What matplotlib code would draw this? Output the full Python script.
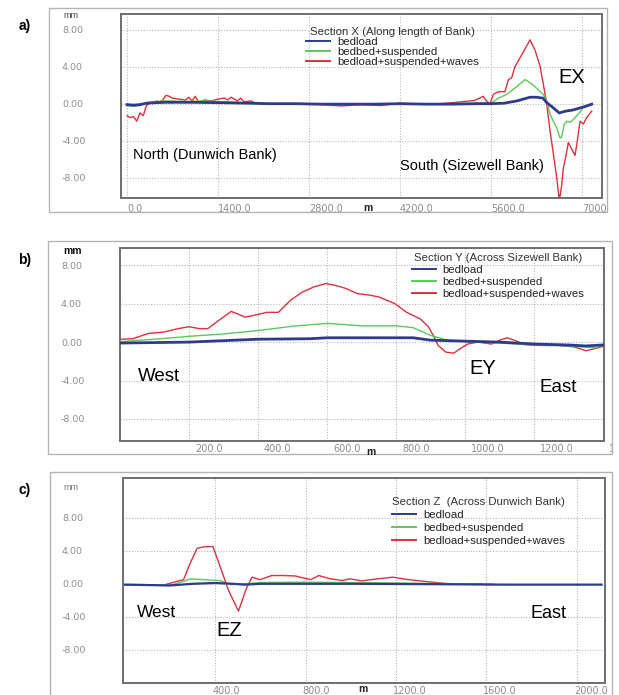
import matplotlib
matplotlib.use("Agg")

import matplotlib.pyplot as plt
from matplotlib.patches import Rectangle
from matplotlib.transforms import Bbox, TransformedBbox, ScaledTranslation

plt.rcParams["font.family"] = ["Liberation Sans", "DejaVu Sans"]

# ==================================================
# DADOS - SECTION X
# ==================================================

xa_red = [0, 50, 100, 150, 200, 250, 300, 350, 400, 450, 500, 550, 600, 650,
          700, 800, 900, 950, 1000, 1050, 1100, 1200, 1300, 1400, 1500, 1550,
          1600, 1700, 1750, 1800, 1900, 2000, 2200, 2600, 3000, 3300, 3600,
          3900, 4200, 4500, 4800, 5000, 5200, 5350, 5480, 5530, 5585, 5636,
          5713, 5815, 5867, 5918, 5969, 6098, 6200, 6277, 6354, 6405, 6457,
          6508, 6559, 6585, 6611, 6652, 6688, 6713, 6754, 6790, 6841, 6893,
          6918, 6970, 7021, 7072, 7150]
ya_red = [-1.3, -1.5, -1.4, -1.9, -1.0, -1.3, -0.2, 0.1, 0.0, 0.3, 0.2, 0.4,
          0.9, 0.8, 0.6, 0.5, 0.4, 0.7, 0.3, 0.8, 0.2, 0.4, 0.3, 0.5, 0.6, 0.4,
          0.7, 0.3, 0.6, 0.2, 0.3, 0.0, 0.0, -0.05, -0.1, -0.25, -0.1, -0.2,
          0.05, -0.05, 0.0, 0.1, 0.25, 0.35, 0.8, 0.3, 0.0, 1.0, 1.3, 1.3, 2.6,
          2.8, 4.0, 5.6, 6.9, 5.8, 4.1, 2.1, 0.0, -2.9, -5.4, -6.7, -8.0,
          -10.5, -8.8, -7.0, -5.6, -4.2, -4.9, -5.6, -4.5, -1.9, -2.2, -1.5,
          -0.8]

xa_green = [0, 100, 200, 300, 400, 600, 900, 1200, 1500, 1800, 2100, 2600,
            3000, 3400, 3800, 4200, 4600, 5000, 5400, 5600, 5636, 5713, 5840,
            5969, 6072, 6123, 6175, 6251, 6328, 6405, 6457, 6508, 6559, 6611,
            6662, 6688, 6724, 6765, 6826, 6867, 6918, 6970, 7021, 7072, 7100]
ya_green = [-0.2, -0.3, -0.2, 0.1, 0.2, 0.3, 0.25, 0.3, 0.2, 0.1, 0.0, -0.05,
            -0.05, -0.1, -0.05, 0.0, -0.05, 0.0, 0.05, 0.1, 0.2, 0.6, 1.0, 1.7,
            2.3, 2.6, 2.4, 2.0, 1.5, 1.0, 0.3, -1.1, -1.9, -2.6, -3.7, -3.6,
            -2.3, -1.9, -2.0, -1.7, -1.3, -0.9, -0.4, -0.2, -0.1]

xa_blue = [0, 100, 200, 300, 400, 600, 1000, 1500, 1900, 2200, 2600, 3000,
           3400, 3800, 4200, 4600, 5000, 5400, 5600, 5800, 6000, 6100, 6200,
           6300, 6400, 6460, 6550, 6650, 6700, 6750, 6850, 6950, 7050, 7150]
ya_blue = [-0.1, -0.15, -0.1, 0.05, 0.1, 0.15, 0.15, 0.1, 0.05, 0.0, 0.0,
           -0.05, -0.05, -0.05, 0.0, -0.05, -0.05, 0.0, 0.0, 0.05, 0.3, 0.5,
           0.7, 0.7, 0.6, 0.1, -0.4, -1.0, -0.9, -0.8, -0.7, -0.5, -0.3, -0.05]

# ==================================================
# DADOS - SECTION Y
# ==================================================

xb_red = [0, 37, 82, 128, 168, 200, 231, 254, 288, 322, 340, 362, 391, 425,
          459, 494, 528, 562, 597, 625, 654, 688, 722, 751, 797, 831, 871,
          894, 911, 922, 945, 968, 985, 1008, 1037, 1077, 1099, 1122, 1145,
          1173, 1213, 1271, 1317, 1351, 1374, 1400]
yb_red = [0.3, 0.35, 0.9, 1.05, 1.4, 1.6, 1.4, 1.4, 2.3, 3.2, 2.95, 2.6, 2.8,
          3.1, 3.1, 4.35, 5.2, 5.75, 6.1, 5.9, 5.6, 5.05, 4.9, 4.7, 4.0, 3.1,
          2.4, 1.6, 0.5, -0.35, -1.05, -1.15, -0.7, -0.2, 0.0, -0.2, 0.17,
          0.45, 0.17, -0.25, -0.35, -0.35, -0.5, -0.9, -0.7, -0.45]

xb_green = [0, 100, 200, 300, 400, 500, 600, 700, 800, 850, 900, 950, 1000,
            1100, 1200, 1300, 1380, 1400]
yb_green = [0.05, 0.3, 0.6, 0.85, 1.2, 1.65, 1.95, 1.7, 1.7, 1.5, 0.7, 0.2,
            0.05, -0.1, -0.3, -0.4, -0.6, -0.3]

xb_blue = [0, 200, 300, 400, 550, 600, 850, 900, 1000, 1100, 1200, 1300,
           1350, 1400]
yb_blue = [-0.1, 0.0, 0.15, 0.3, 0.35, 0.45, 0.45, 0.2, 0.1, 0.0, -0.2, -0.3,
           -0.4, -0.3]

# ==================================================
# DADOS - SECTION Z
# ==================================================

xc_red = [0, 78, 165, 217, 260, 286, 320, 355, 390, 425, 459, 503, 537, 563,
          598, 650, 702, 754, 823, 858, 910, 962, 997, 1049, 1118, 1187, 1256,
          1326, 1395, 1464, 1534, 1629]
yc_red = [-0.1, -0.1, -0.2, 0.2, 0.5, 2.3, 4.3, 4.5, 4.5, 1.85, -0.8, -3.3,
          -0.6, 0.8, 0.5, 1.0, 1.0, 0.95, 0.5, 1.0, 0.6, 0.4, 0.6, 0.35, 0.6,
          0.8, 0.5, 0.3, 0.1, -0.05, -0.05, -0.1]

xc_green = [0, 200, 260, 290, 350, 420, 470, 520, 600, 800, 1200, 1500, 1630]
yc_green = [-0.1, -0.2, 0.3, 0.6, 0.5, 0.4, -0.1, 0.0, 0.15, 0.2, 0.1, 0.0,
            -0.05]

xc_blue = [0, 200, 300, 400, 480, 530, 600, 1000, 1400, 1700, 2000, 2110]
yc_blue = [-0.1, -0.2, 0.0, 0.1, 0.0, -0.1, 0.0, 0.0, -0.05, -0.1, -0.1,
           -0.1]

yticks = [8, 4, 0, -4, -8]
ytick_labels = ["8.00", "4.00", "0.00", "-4.00", "-8.00"]

xa_ticks = [0, 1400, 2800, 4200, 5600, 7000]
xa_labels = ["0.0", "1400.0", "2800.0", "4200.0", "5600.0", "7000.0"]
xb_ticks = [200, 400, 600, 800, 1000, 1200, 1400]
xb_labels = ["200.0", "400.0", "600.0", "800.0", "1000.0", "1200.0", "1400.0"]
xc_ticks = [400, 800, 1200, 1600, 2000]
xc_labels = ["400.0", "800.0", "1200.0", "1600.0", "2000.0"]

series_labels = ["bedload", "bedbed+suspended", "bedload+suspended+waves"]

COR_BLUE = "#2e3a8e"
COR_GREEN = "#5cc85c"
COR_RED = "#e0303c"
COR_TICK = "#8c8c8c"

W, H = 619, 695

fig = plt.figure(figsize=(W / 100, H / 100), dpi=100)


def px_box(x0, y0, x1, y1):
    # caixa em pixels (origem no topo) -> fracao da figura
    return [x0 / W, 1 - y1 / H, (x1 - x0) / W, (y1 - y0) / H]


def painel(
    letra,
    outer,
    inner,
    xlim,
    ylim,
    xticks,
    xlabels,
    series,
    titulo,
    leg_anchor,
    leg_spacing,
    ytick_pad,
    xtick_pad,
    xlabel_shift,
    mm_style,
    m_pos
):

    # moldura externa clara
    ox0, oy0, ox1, oy1 = outer
    moldura = Rectangle(
        (ox0 / W, 1 - oy1 / H),
        (ox1 - ox0) / W,
        (oy1 - oy0) / H,
        transform=fig.transFigure,
        fill=False,
        edgecolor="#b4b4b4",
        linewidth=1.0
    )
    fig.patches.append(moldura)

    clip = TransformedBbox(
        Bbox.from_extents(ox0 / W, 1 - oy1 / H, ox1 / W, 1 - oy0 / H),
        fig.transFigure
    )

    ax = fig.add_axes(px_box(*inner))

    xb, yb, xg, yg, xr, yr, lw_blue = series

    ax.plot(xb, yb, color=COR_BLUE, linewidth=lw_blue, label=series_labels[0],
            zorder=4)
    ax.plot(xg, yg, color=COR_GREEN, linewidth=1.0, label=series_labels[1],
            zorder=3)
    ax.plot(xr, yr, color=COR_RED, linewidth=1.0, label=series_labels[2],
            zorder=2)

    ax.set_xlim(*xlim)
    ax.set_ylim(*ylim)

    ax.set_yticks(yticks)
    ax.set_yticklabels(ytick_labels, family="DejaVu Sans")
    ax.set_xticks(xticks)
    ax.set_xticklabels(xlabels, family="DejaVu Sans")

    ax.tick_params(axis="y", length=0, pad=ytick_pad, labelsize=6.8,
                   labelcolor=COR_TICK)
    ax.tick_params(axis="x", length=0, pad=xtick_pad, labelsize=7,
                   labelcolor=COR_TICK)

    for lab in ax.get_yticklabels():
        lab.set_horizontalalignment("left")

    desloc = ScaledTranslation(xlabel_shift / 100, 0, fig.dpi_scale_trans)
    for lab in ax.get_xticklabels():
        lab.set_horizontalalignment("left")
        lab.set_transform(lab.get_transform() + desloc)
        lab.set_clip_box(clip)
        lab.set_clip_on(True)

    ax.grid(True, linestyle=(0, (1, 1.5)), color="#b8b8b8", linewidth=0.8)
    ax.set_axisbelow(True)

    for sp in ax.spines.values():
        sp.set_color("#6e6e6e")
        sp.set_linewidth(1.4)

    leg = ax.legend(
        title=titulo,
        loc="upper left",
        bbox_to_anchor=leg_anchor,
        frameon=False,
        fontsize=8.2,
        title_fontproperties={"size": 8.2},
        handlelength=2.1,
        handletextpad=0.6,
        labelspacing=leg_spacing,
        borderpad=0,
        borderaxespad=0
    )
    leg.get_title().set_color("#333333")
    for t in leg.get_texts():
        t.set_color("#222222")
    for h in leg.legend_handles:
        h.set_linewidth(1.4)

    # letra do painel
    fig.text(25 / W, 1 - (inner[1] + 12) / H, letra, fontsize=10,
             fontweight="bold", ha="center", va="center")

    # unidade do eixo y
    mm_y, mm_cor, mm_peso, mm_tam = mm_style
    fig.text(63 / W, 1 - mm_y / H, "mm", fontsize=mm_tam, color=mm_cor,
             fontweight=mm_peso, ha="left", va="center")

    # unidade do eixo x
    fig.text(m_pos[0] / W, 1 - m_pos[1] / H, "m", fontsize=7.5,
             color="#222222", fontweight="bold", ha="center", va="center")

    return ax


# ==================================================
# PAINEL A
# ==================================================

ax_a = painel(
    "a)",
    (49, 8, 607, 212),
    (121, 14, 602, 198),
    (-92, 7308),
    (-10.2, 9.7),
    xa_ticks,
    xa_labels,
    (xa_blue, ya_blue, xa_green, ya_green, xa_red, ya_red, 2.0),
    "Section X (Along length of Bank)",
    (0.385, 0.93),
    0.0,
    42.5,
    4.5,
    0,
    (15, "#444444", "normal", 6.5),
    (368, 208)
)

ax_a.text(92, -5.5, "North (Dunwich Bank)", fontsize=10.5, va="center")
ax_a.text(4200, -6.7, "South (Sizewell Bank)", fontsize=10.5, va="center")
ax_a.text(6630, 2.8, "EX", fontsize=14.5, va="center")

# ==================================================
# PAINEL B
# ==================================================

ax_b = painel(
    "b)",
    (48, 241, 612, 454),
    (120, 248, 604, 441),
    (0, 1403),
    (-10.3, 9.8),
    xb_ticks,
    xb_labels,
    (xb_blue, yb_blue, xb_green, yb_green, xb_red, yb_red, 2.0),
    "Section Y (Across Sizewell Bank)",
    (0.603, 0.975),
    0.18,
    42.5,
    2.5,
    6,
    (251, "#111111", "bold", 7.5),
    (371, 452)
)

ax_b.text(52, -3.6, "West", fontsize=13.5, va="center")
ax_b.text(1014, -2.7, "EY", fontsize=14.5, va="center")
ax_b.text(1217, -4.7, "East", fontsize=13.5, va="center")

# ==================================================
# PAINEL C
# ==================================================

ax_c = painel(
    "c)",
    (50, 472, 612, 700),
    (123, 478, 605, 683),
    (-8, 2125),
    (-12.0, 12.8),
    xc_ticks,
    xc_labels,
    (xc_blue, yc_blue, xc_green, yc_green, xc_red, yc_red, 1.6),
    "Section Z  (Across Dunwich Bank)",
    (0.558, 0.905),
    0.25,
    44,
    2,
    -3,
    (488, "#777777", "normal", 6.5),
    (363, 689)
)

ax_c.text(55, -3.5, "West", fontsize=12.5, va="center")
ax_c.text(405, -5.6, "EZ", fontsize=14.5, va="center")
ax_c.text(1797, -3.6, "East", fontsize=13, va="center")

plt.savefig("out.png", dpi=100)
plt.close()
